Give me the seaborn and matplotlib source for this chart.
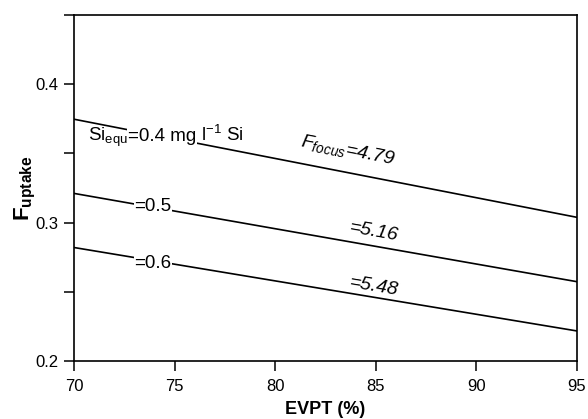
import matplotlib
matplotlib.use("Agg")
import matplotlib.pyplot as plt
import seaborn as sns
import pandas as pd
from matplotlib.ticker import MultipleLocator

# Data
evpt = [70, 95]
f_si04 = [0.3747, 0.3038]
f_si05 = [0.3211, 0.2573]
f_si06 = [0.2820, 0.2217]
series_names = ["0.4", "0.5", "0.6"]
first_label_parts = [r"Si$_{\rm equ}$", "=0.4 mg", r" l$^{-1}$ Si"]
left_labels = ["=0.5", "=0.6"]
focus_labels = [r"$F_{focus}$=4.79", "=5.16", "=5.48"]
x_ticks = [70, 75, 80, 85, 90, 95]
y_ticks = [0.2, 0.3, 0.4]

rows = []
for name, vals in zip(series_names, [f_si04, f_si05, f_si06]):
    for x, y in zip(evpt, vals):
        rows.append({"EVPT": x, "F": y, "Si": name})
df = pd.DataFrame(rows)

sns.set_style("ticks")
plt.rcParams["font.family"] = ["Liberation Sans", "DejaVu Sans"]
plt.rcParams["mathtext.fontset"] = "custom"
plt.rcParams["mathtext.rm"] = "Liberation Sans"
plt.rcParams["mathtext.it"] = "Liberation Sans:italic"
plt.rcParams["mathtext.bf"] = "Liberation Sans:bold"
plt.rcParams["text.color"] = "black"
plt.rcParams["axes.labelcolor"] = "black"

fig = plt.figure(figsize=(5.88, 4.19), dpi=100)
ax = fig.add_axes([74/588, 1-361/419, (577-74)/588, (361-15)/419])

sns.lineplot(data=df, x="EVPT", y="F", hue="Si", palette=["black"]*3,
             legend=False, ax=ax, linewidth=1.2, zorder=1)

ax.set_xlim(70, 95)
ax.set_ylim(0.2, 0.45)
ax.set_xticks(x_ticks)
ax.set_xticklabels([str(t) for t in x_ticks])
ax.set_yticks(y_ticks)
ax.set_yticklabels([f"{t:.1f}" for t in y_ticks])
ax.yaxis.set_minor_locator(MultipleLocator(0.05))
ax.tick_params(axis="both", which="both", direction="out", length=7,
               width=1.1, labelsize=12, color="black", labelcolor="black",
               pad=4)
ax.tick_params(axis="x", pad=6)
for s in ax.spines.values():
    s.set_visible(True)
    s.set_linewidth(1.2)
    s.set_color("black")

ax.set_xlabel("EVPT (%)", fontsize=13, fontweight="bold", labelpad=5)
ax.set_ylabel(r"$\mathbf{F_{uptake}}$", fontsize=16, labelpad=-2)

box = dict(facecolor="white", edgecolor="none", pad=0.5)

# First label built from pieces so only the middle piece breaks the line
fig.canvas.draw()
renderer = fig.canvas.get_renderer()
x_cur = 70.7
y_base = 0.3588
for i, part in enumerate(first_label_parts):
    t = ax.text(x_cur, y_base, part, fontsize=13.5, ha="left", va="baseline",
                bbox=box if i == 1 else None, zorder=3)
    bb = t.get_window_extent(renderer)
    x_cur = ax.transData.inverted().transform((bb.x1, bb.y0))[0]

ax.text(73.0, 0.3114, left_labels[0], fontsize=13.5, ha="left", va="center",
        bbox=box, zorder=3)
ax.text(73.0, 0.2708, left_labels[1], fontsize=13.5, ha="left", va="center",
        bbox=box, zorder=3)

ax.text(83.6, 0.3523, focus_labels[0], fontsize=14, style="italic",
        ha="center", va="center", rotation=-11, rotation_mode="anchor")
ax.text(84.9, 0.2934, focus_labels[1], fontsize=14, style="italic",
        ha="center", va="center", rotation=-10, rotation_mode="anchor")
ax.text(84.9, 0.2536, focus_labels[2], fontsize=14, style="italic",
        ha="center", va="center", rotation=-9.5, rotation_mode="anchor")

fig.savefig("out.png", dpi=100)
